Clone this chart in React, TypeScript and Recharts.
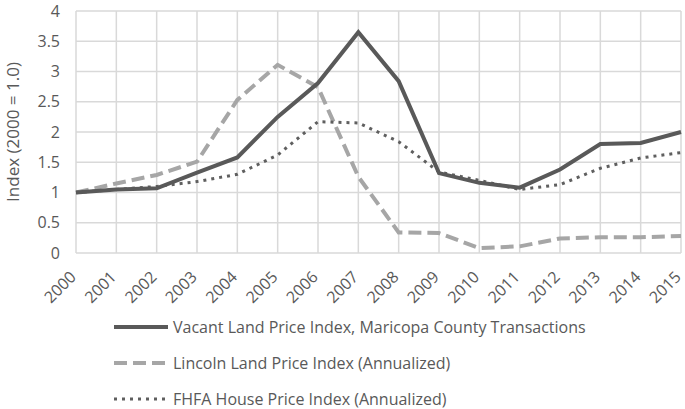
import React from 'react';
import { LineChart, Line, XAxis, YAxis, CartesianGrid, Legend } from 'recharts';

const years = ['2000','2001','2002','2003','2004','2005','2006','2007','2008','2009','2010','2011','2012','2013','2014','2015'];
const vacantLand = [1.0, 1.05, 1.07, 1.33, 1.58, 2.25, 2.81, 3.65, 2.84, 1.32, 1.16, 1.08, 1.38, 1.80, 1.82, 2.0];
const lincolnLand = [1.0, 1.15, 1.29, 1.51, 2.53, 3.11, 2.74, 1.26, 0.34, 0.33, 0.08, 0.11, 0.24, 0.26, 0.26, 0.28];
const fhfaHouse = [1.0, 1.05, 1.1, 1.18, 1.30, 1.62, 2.17, 2.15, 1.84, 1.34, 1.2, 1.05, 1.13, 1.40, 1.57, 1.66];
const yTicks = [0, 0.5, 1, 1.5, 2, 2.5, 3, 3.5, 4];

const seriesNames = [
  'Vacant Land Price Index, Maricopa County Transactions',
  'Lincoln Land Price Index (Annualized)',
  'FHFA House Price Index (Annualized)',
];
const yAxisTitle = 'Index (2000 = 1.0)';

const data = years.map((y, i) => ({
  year: y,
  vacant: vacantLand[i],
  lincoln: lincolnLand[i],
  fhfa: fhfaHouse[i],
}));

const FONT = '"Open Sans", sans-serif';
const TEXT = '#595959';

const XTick = (props: any) => {
  const { x, y, payload } = props;
  return (
    <g transform={`translate(${x + 1},${y + 17})`}>
      <text transform="rotate(-45)" textAnchor="end" fill={TEXT} fontSize={16} fontFamily={FONT}>
        {payload.value}
      </text>
    </g>
  );
};

const YTitle = (props: any) => {
  const vb = props.viewBox || {};
  const cy = (vb.y ?? 11) + (vb.height ?? 242) / 2;
  const cx = 12;
  return (
    <text
      x={cx}
      y={cy}
      transform={`rotate(-90, ${cx}, ${cy})`}
      textAnchor="middle"
      dominantBaseline="central"
      fill={TEXT}
      fontSize={17}
      fontFamily={FONT}
    >
      {yAxisTitle}
    </text>
  );
};

const legendItems = [
  { name: seriesNames[0], color: '#595959', dash: undefined, width: 4 },
  { name: seriesNames[1], color: '#a6a6a6', dash: '13 6', width: 4 },
  { name: seriesNames[2], color: '#5f5f5f', dash: '3 5', width: 3 },
];

const LegendContent = () => (
  <div style={{ fontFamily: FONT, fontSize: 16, color: TEXT }}>
    {legendItems.map((it, i) => (
      <div key={i} style={{ display: 'flex', alignItems: 'center', height: 36 }}>
        <svg width={56} height={10} style={{ marginRight: 4 }}>
          <line x1={1} y1={5} x2={55} y2={5} stroke={it.color} strokeWidth={it.width} strokeDasharray={it.dash} />
        </svg>
        <span style={{ whiteSpace: 'nowrap' }}>{it.name}</span>
      </div>
    ))}
  </div>
);

export default function App() {
  return (
    <div style={{ position: 'absolute', left: 0, top: 0, background: '#fff' }}>
      <LineChart width={685} height={409} data={data} margin={{ top: 11, right: 4, bottom: 0, left: 0 }}>
        <CartesianGrid stroke="#d9d9d9" strokeWidth={1.5} />
        <XAxis
          dataKey="year"
          interval={0}
          height={156}
          axisLine={false}
          tickLine={false}
          tick={<XTick />}
        />
        <YAxis
          domain={[0, 4]}
          ticks={yTicks}
          width={76}
          axisLine={false}
          tickLine={false}
          tick={{ fill: TEXT, fontSize: 16, fontFamily: FONT }}
          tickMargin={10}
          label={<YTitle />}
        />
        <Legend
          layout="vertical"
          align="center"
          verticalAlign="middle"
          wrapperStyle={{ top: 309, left: 113, width: 570 }}
          content={<LegendContent />}
        />
        <Line dataKey="lincoln" name={seriesNames[1]} stroke="#a6a6a6" strokeWidth={4} strokeDasharray="13 6" dot={false} isAnimationActive={false} />
        <Line dataKey="fhfa" name={seriesNames[2]} stroke="#5f5f5f" strokeWidth={3} strokeDasharray="3 5" dot={false} isAnimationActive={false} />
        <Line dataKey="vacant" name={seriesNames[0]} stroke="#595959" strokeWidth={4} dot={false} isAnimationActive={false} />
      </LineChart>
    </div>
  );
}
